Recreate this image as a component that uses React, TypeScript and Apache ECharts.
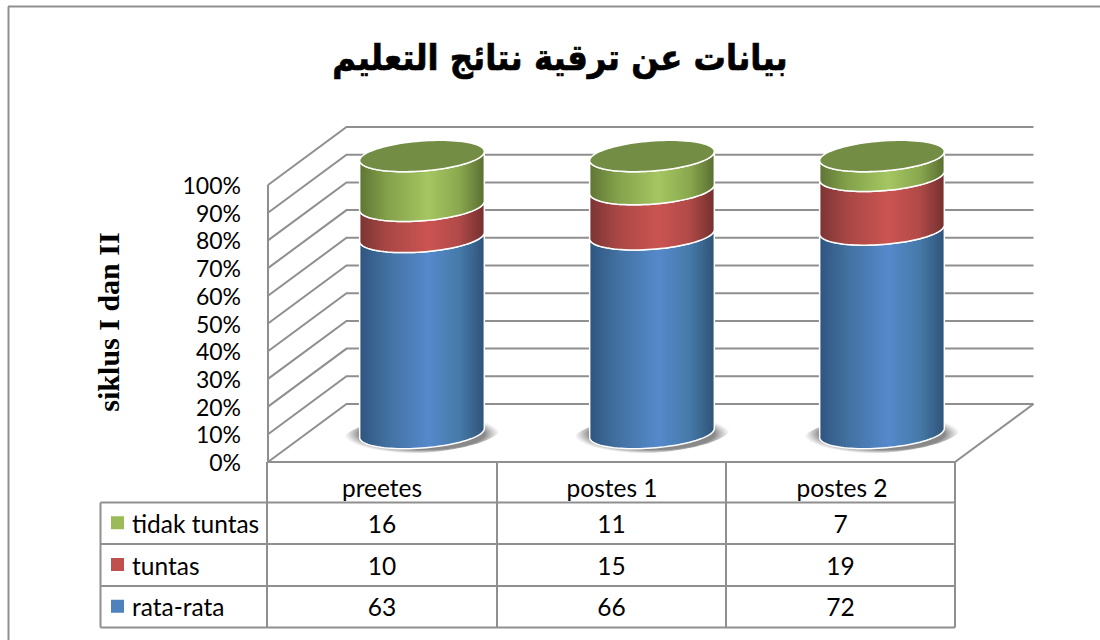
import React, { useEffect, useRef } from "react";
import * as echarts from "echarts";

const titleText = "بيانات عن ترقية نتائج التعليم";
const yAxisName = "siklus I dan II";
const categories = ["preetes", "postes 1", "postes 2"];
const rataRata = [63, 66, 72];
const tuntas = [10, 15, 19];
const tidakTuntas = [16, 11, 7];

const seriesNames = ["tidak tuntas", "tuntas", "rata-rata"];
const legendColors = ["#9BBB59", "#C0504D", "#4F81BD"];

const FONT = "Lato, 'Open Sans', sans-serif";
const GRID = { left: 267, top: 185, width: 690, height: 277 };
const WALL_LEFT = 268;
const WALL_RIGHT = 955;
const DEPTH = { x: 78.5, y: -58 };
const TILT = (4.4 * Math.PI) / 180;
const RX = 62.5;
const RY = 15;
const LINE = "#8f8f8f";

const totals = categories.map((_, i) => rataRata[i] + tuntas[i] + tidakTuntas[i]);

function stackData(values: number[], below: number[][]) {
  return values.map((v, i) => {
    const base = below.reduce((s, arr) => s + arr[i], 0);
    return [i, (base / totals[i]) * 100, ((base + v) / totals[i]) * 100];
  });
}

function ellipsePoint(cx: number, cy: number, a: number, b: number, t: number) {
  return [
    cx + a * Math.cos(t) * Math.cos(TILT) + b * Math.sin(t) * Math.sin(TILT),
    cy - a * Math.cos(t) * Math.sin(TILT) + b * Math.sin(t) * Math.cos(TILT),
  ];
}

function lowerArc(cx: number, cy: number, reverse: boolean) {
  const t0 = Math.atan2(RY * Math.sin(TILT), RX * Math.cos(TILT));
  const pts: number[][] = [];
  for (let k = 0; k <= 48; k++) pts.push(ellipsePoint(cx, cy, RX, RY, t0 + (Math.PI * k) / 48));
  return reverse ? pts : pts.reverse();
}

function fullEllipse(cx: number, cy: number, a: number, b: number) {
  const pts: number[][] = [];
  for (let k = 0; k < 96; k++) pts.push(ellipsePoint(cx, cy, a, b, (2 * Math.PI * k) / 96));
  return pts;
}

function sideGradient(edgeL: string, quarter: string, mid: string, three: string, edgeR: string) {
  return new echarts.graphic.LinearGradient(0, 0, 1, 0, [
    { offset: 0, color: edgeL },
    { offset: 0.22, color: quarter },
    { offset: 0.55, color: mid },
    { offset: 0.8, color: three },
    { offset: 1, color: edgeR },
  ]);
}

const gradients = [
  () => sideGradient("#2f5580", "#42709f", "#5589cb", "#467aa9", "#2f5378"),
  () => sideGradient("#7a3533", "#a84745", "#cb5451", "#b04a48", "#73302e"),
  () => sideGradient("#5f7535", "#83a14a", "#a5c662", "#8aa84e", "#5a6f32"),
];

function shadowGradient() {
  return new echarts.graphic.RadialGradient(0.5, 0.5, 0.5, [
    { offset: 0, color: "#7a7a7a" },
    { offset: 0.8, color: "#8a8a8a" },
    { offset: 1, color: "rgba(170,170,170,0)" },
  ]);
}

function cylinderSeries(name: string, data: number[][], idx: number, withTop: boolean) {
  return {
    type: "custom",
    name,
    z: 5 + idx,
    data,
    silent: true,
    renderItem: (_p: any, api: any) => {
      const bot = api.coord([api.value(0), api.value(1)]);
      const top = api.coord([api.value(0), api.value(2)]);
      const cx = bot[0] + DEPTH.x / 2 + 0.75;
      const yb = bot[1] + DEPTH.y / 2;
      const yt = top[1] + DEPTH.y / 2;
      const children: any[] = [];
      if (idx === 0) {
        children.push({
          type: "polygon",
          shape: { points: fullEllipse(cx, yb + 1, RX + 16, RY + 4) },
          style: { fill: shadowGradient() },
        });
      }
      children.push({
        type: "polygon",
        shape: { points: [...lowerArc(cx, yb, true), ...lowerArc(cx, yt, false)] },
        style: { fill: gradients[idx](), stroke: "#ffffff", lineWidth: 1.5 },
      });
      if (withTop) {
        children.push({
          type: "polygon",
          shape: { points: fullEllipse(cx, yt, RX, RY) },
          style: { fill: "#748d45", stroke: "#ffffff", lineWidth: 1.5 },
        });
      }
      return { type: "group", children };
    },
  };
}

function wallSeries() {
  const ticks = Array.from({ length: 11 }, (_, i) => [i * 10]);
  return {
    type: "custom",
    z: 1,
    silent: true,
    data: ticks,
    renderItem: (params: any, api: any) => {
      const cs = params.coordSys;
      const y = api.coord([0, api.value(0)])[1];
      const isFloor = api.value(0) === 0;
      const children: any[] = [
        {
          type: "polyline",
          shape: { points: [[WALL_LEFT, y], [WALL_LEFT + DEPTH.x, y + DEPTH.y], [WALL_RIGHT + DEPTH.x, y + DEPTH.y]] },
          style: { stroke: LINE, lineWidth: 2, fill: "none" },
        },
      ];
      if (isFloor) {
        children.push({
          type: "polyline",
          shape: { points: [[WALL_LEFT, y], [WALL_RIGHT, y], [WALL_RIGHT + DEPTH.x, y + DEPTH.y]] },
          style: { stroke: LINE, lineWidth: 2, fill: "none" },
        });
        children.push({
          type: "line",
          shape: { x1: WALL_LEFT, y1: y, x2: WALL_LEFT, y2: cs.y },
          style: { stroke: LINE, lineWidth: 2 },
        });
      }
      return { type: "group", children };
    },
  };
}

function tableGraphics() {
  const rowYs = [502.5, 544, 586, 627.5];
  const colXs = [100.5, 267, 497, 726, 955];
  const rows = [tidakTuntas, tuntas, rataRata];
  const out: any[] = [];
  const ln = (x1: number, y1: number, x2: number, y2: number) => ({
    type: "line",
    shape: { x1, y1, x2, y2 },
    style: { stroke: LINE, lineWidth: 2 },
    z: 2,
  });
  rowYs.forEach((y) => out.push(ln(colXs[0], y, colXs[4], y)));
  out.push(ln(colXs[0], rowYs[0], colXs[0], rowYs[3]));
  colXs.slice(1).forEach((x) => out.push(ln(x, GRID.top + GRID.height, x, rowYs[3])));
  rows.forEach((vals, r) => {
    const yc = (rowYs[r] + rowYs[r + 1]) / 2;
    out.push({
      type: "rect",
      shape: { x: 111, y: yc - 7, width: 13, height: 13 },
      style: { fill: legendColors[r] },
      z: 3,
    });
    out.push({
      type: "text",
      x: 132,
      y: yc,
      style: { text: seriesNames[r], font: `24.5px ${FONT}`, fill: "#000", textAlign: "left", textVerticalAlign: "middle" },
      z: 3,
    });
    vals.forEach((v, c) => {
      out.push({
        type: "text",
        x: (colXs[c + 1] + colXs[c + 2]) / 2,
        y: yc,
        style: { text: String(v), font: `24.5px ${FONT}`, fill: "#000", textAlign: "center", textVerticalAlign: "middle" },
        z: 3,
      });
    });
  });
  return out;
}

export default function App() {
  const ref = useRef<HTMLDivElement>(null);
  useEffect(() => {
    document.body.style.margin = "0";
    const chart = echarts.init(ref.current!, undefined, { renderer: "svg" });
    chart.setOption({
      animation: false,
      backgroundColor: "#ffffff",
      grid: { left: GRID.left, top: GRID.top, width: GRID.width, height: GRID.height, containLabel: false },
      xAxis: {
        type: "category",
        data: categories,
        axisLine: { show: false },
        axisTick: { show: false },
        axisLabel: { color: "#000", fontFamily: "Lato", fontSize: 24.5, margin: 13 },
      },
      yAxis: {
        type: "value",
        min: 0,
        max: 100,
        interval: 10,
        axisLine: { show: false },
        axisTick: { show: false },
        splitLine: { show: false },
        axisLabel: { color: "#000", fontFamily: "Lato", fontSize: 23, margin: 26, padding: [2, 0, 0, 0], formatter: "{value}%" },
      },
      graphic: [
        { type: "line", shape: { x1: 8, y1: 6.5, x2: 1100, y2: 6.5 }, style: { stroke: LINE, lineWidth: 2 } },
        { type: "line", shape: { x1: 8.5, y1: 6.5, x2: 8.5, y2: 640 }, style: { stroke: LINE, lineWidth: 2 } },
        {
          type: "text",
          x: 560,
          y: 57,
          scaleX: 0.897,
          style: {
            text: titleText,
            font: "bold 36px 'DejaVu Sans', sans-serif",
            fill: "#000",
            stroke: "#000",
            lineWidth: 0.7,
            textAlign: "center",
            textVerticalAlign: "middle",
          },
        },
        {
          type: "text",
          x: 108,
          y: 322,
          rotation: Math.PI / 2,
          style: {
            text: yAxisName,
            font: "bold 30px 'Liberation Serif', serif",
            fill: "#000",
            textAlign: "center",
            textVerticalAlign: "middle",
          },
        },
        ...tableGraphics(),
      ],
      series: [
        wallSeries(),
        cylinderSeries(seriesNames[2], stackData(rataRata, []), 0, false),
        cylinderSeries(seriesNames[1], stackData(tuntas, [rataRata]), 1, false),
        cylinderSeries(seriesNames[0], stackData(tidakTuntas, [rataRata, tuntas]), 2, true),
      ],
    });
    return () => chart.dispose();
  }, []);
  return <div ref={ref} style={{ width: 1100, height: 640 }} />;
}
